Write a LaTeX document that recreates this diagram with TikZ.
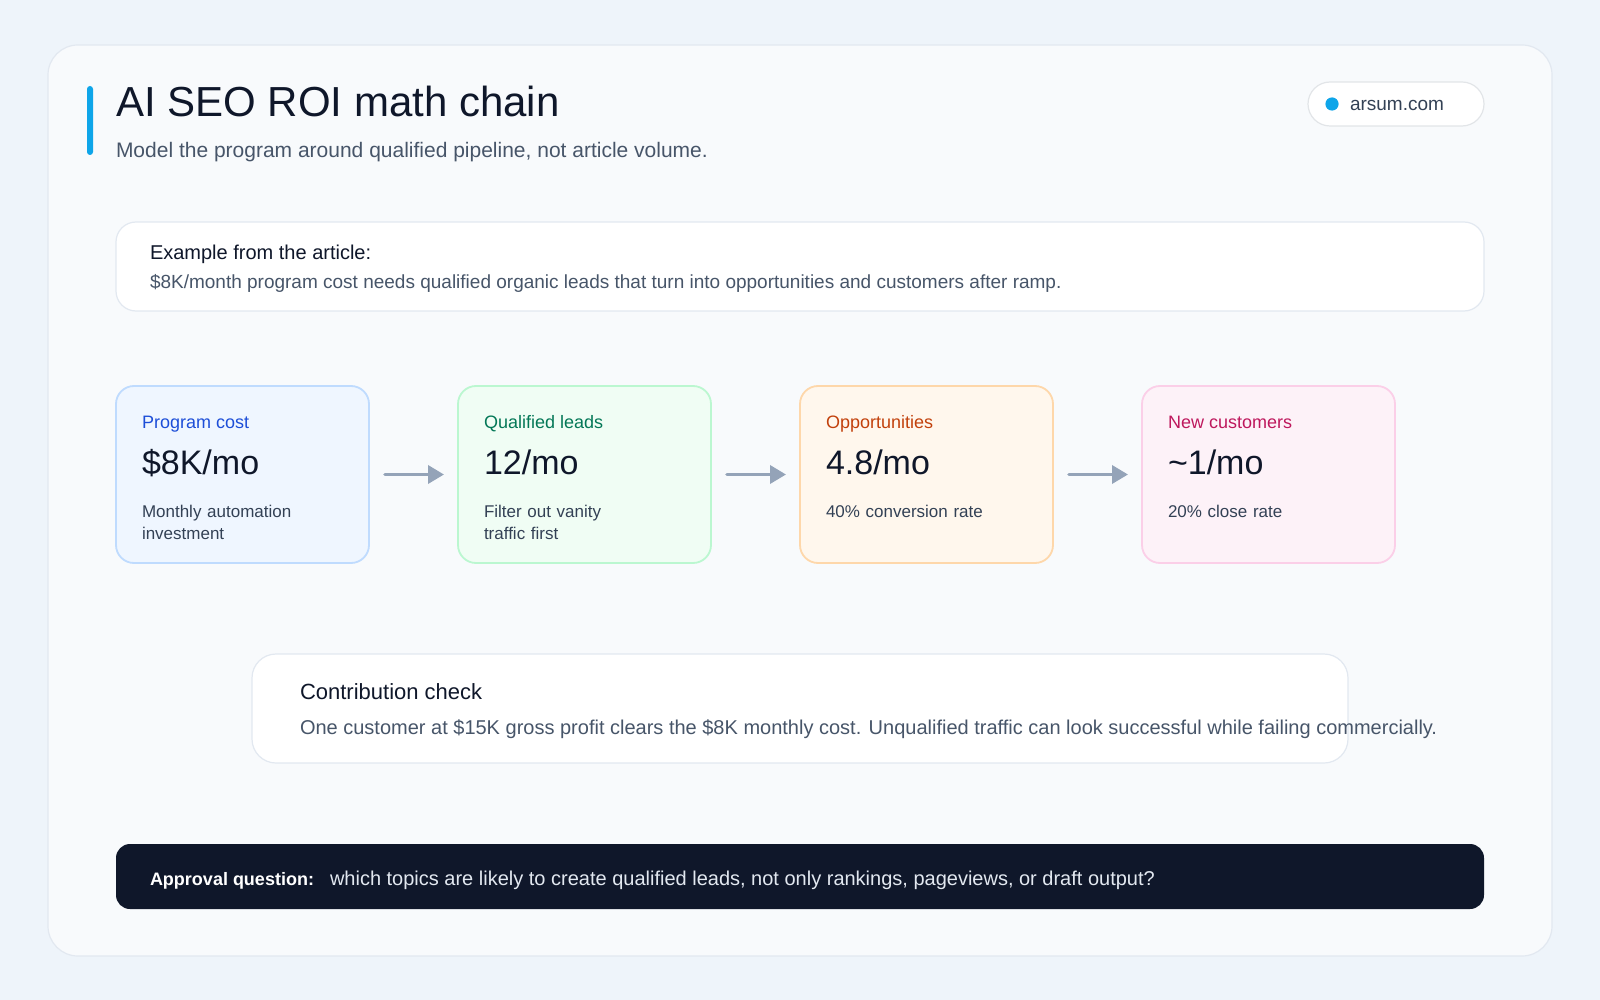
\documentclass[tikz,border=0pt]{standalone}
\usepackage{fontspec}
\setmainfont{Liberation Sans}
\usetikzlibrary{positioning,arrows.meta}
\definecolor{fond}{HTML}{EEF4FA}
\definecolor{carte}{HTML}{F8FAFC}
\definecolor{trait}{HTML}{E2E8F0}
\definecolor{encre}{HTML}{0F172A}
\definecolor{gris}{HTML}{475569}
\definecolor{ardoise}{HTML}{334155}
\definecolor{accent}{HTML}{0EA5E9}
\definecolor{fleche}{HTML}{94A3B8}
\definecolor{clair}{HTML}{E2E8F0}
\definecolor{bleuF}{HTML}{EFF6FF}
\definecolor{bleuB}{HTML}{BFDBFE}
\definecolor{bleuT}{HTML}{1D4ED8}
\definecolor{vertF}{HTML}{F0FDF4}
\definecolor{vertB}{HTML}{BBF7D0}
\definecolor{vertT}{HTML}{047857}
\definecolor{orangeF}{HTML}{FFF7ED}
\definecolor{orangeB}{HTML}{FED7AA}
\definecolor{orangeT}{HTML}{C2410C}
\definecolor{roseF}{HTML}{FDF2F8}
\definecolor{roseB}{HTML}{FBCFE8}
\definecolor{roseT}{HTML}{BE185D}
\begin{document}
\begin{tikzpicture}[
    x=0.5pt, y=-0.5pt, % une unité = un pixel, y vers le bas
    every node/.style={inner sep=0pt, outer sep=0pt},
    panel/.style={draw=trait, fill=white, line width=0.6pt, rounded corners=10pt, anchor=north west},
    stagebox/.style={line width=0.9pt, rounded corners=9pt, minimum width=126.5pt, minimum height=88.5pt, anchor=north west},
    txt/.style={anchor=base west},
    lab/.style={txt, font=\fontsize{9}{11}\selectfont},
    val/.style={txt, text=encre, font=\fontsize{17}{20}\selectfont},
    sub/.style={txt, text=ardoise, text width=115pt, align=left, font=\fontsize{8.5}{11}\selectfont},
    flow/.style={draw=fleche, line width=1.8pt, line cap=round, -{Triangle[length=8pt,width=9pt]}, shorten <=8pt, shorten >=7pt}
]
% Fond et carte
\fill[fond] (0,0) rectangle (1600,1000);
\useasboundingbox (0,0) rectangle (1600,1000);
\node[draw=trait, fill=carte, line width=0.6pt, rounded corners=15pt, minimum width=752pt, minimum height=455.5pt, anchor=north west] (card) at (48,45) {};
% En-tête
\fill[accent, rounded corners=1.5pt] (87,86) rectangle (93,155);
\node[txt, text=encre, font=\fontsize{21}{25}\selectfont] (title) at (116,117) {AI SEO ROI math chain};
\node[txt, text=gris, font=\fontsize{10.5}{12}\selectfont] (subtitle) at (116,158) {Model the program around qualified pipeline, not article volume.};
% Pastille
\node[panel, draw=clair!80!gray!60, rounded corners=11pt, minimum width=88pt, minimum height=22pt] (pill) at (1308,82) {};
\fill[accent] (1332,104) circle (3.3pt);
\node[txt, text=ardoise, font=\fontsize{9.5}{11}\selectfont] (site) at (1350,111) {arsum.com};
% Exemple
\node[panel, minimum width=684pt, minimum height=44.5pt] (example) at (116,222) {};
\node[txt, text=encre, font=\fontsize{10}{12}\selectfont] (exhead) at (150,260) {Example from the article:};
\node[txt, text=gris, font=\fontsize{9.5}{11}\selectfont] (exbody) at (150,288) {\$8K/month program cost needs qualified organic leads that turn into opportunities and customers after ramp.};
% Chaîne des étapes
\node[stagebox, draw=bleuB, fill=bleuF] (b1) at (116,386) {};
\node[stagebox, draw=vertB, fill=vertF, right=44.5pt of b1] (b2) {};
\node[stagebox, draw=orangeB, fill=orangeF, right=44.5pt of b2] (b3) {};
\node[stagebox, draw=roseB, fill=roseF, right=44.5pt of b3] (b4) {};
\node[lab, text=bleuT] (b1l) at ([shift={(26,42)}]b1.north west) {Program cost};
\node[val] (b1v) at ([shift={(26,88)}]b1.north west) {\$8K/mo};
\node[sub] (b1s) at ([shift={(26,131)}]b1.north west) {Monthly automation\\investment};
\node[lab, text=vertT] (b2l) at ([shift={(26,42)}]b2.north west) {Qualified leads};
\node[val] (b2v) at ([shift={(26,88)}]b2.north west) {12/mo};
\node[sub] (b2s) at ([shift={(26,131)}]b2.north west) {Filter out vanity\\traffic first};
\node[lab, text=orangeT] (b3l) at ([shift={(26,42)}]b3.north west) {Opportunities};
\node[val] (b3v) at ([shift={(26,88)}]b3.north west) {4.8/mo};
\node[sub] (b3s) at ([shift={(26,131)}]b3.north west) {40\% conversion rate};
\node[lab, text=roseT] (b4l) at ([shift={(26,42)}]b4.north west) {New customers};
\node[val] (b4v) at ([shift={(26,88)}]b4.north west) {\textasciitilde1/mo};
\node[sub] (b4s) at ([shift={(26,131)}]b4.north west) {20\% close rate};
\draw[flow] (b1) -- (b2);
\draw[flow] (b2) -- (b3);
\draw[flow] (b3) -- (b4);
% Vérification
\node[panel, rounded corners=12pt, minimum width=548pt, minimum height=54.5pt] (check) at (252,654) {};
\node[txt, text=encre, font=\fontsize{11}{13}\selectfont] (chead) at (300,699) {Contribution check};
\node[txt, text=gris, font=\fontsize{10}{12}\selectfont] (cbody) at (300,734) {One customer at \$15K gross profit clears the \$8K monthly cost. Unqualified traffic can look successful while failing commercially.};
% Question d'approbation
\node[fill=encre, rounded corners=7pt, minimum width=684pt, minimum height=32.5pt, anchor=north west] (approval) at (116,844) {};
\node[txt, text=white, font=\bfseries\fontsize{9}{11}\selectfont] (aq) at (150,885) {Approval question:};
\node[txt, text=clair, font=\fontsize{10}{12}\selectfont] (atext) at (330,885) {which topics are likely to create qualified leads, not only rankings, pageviews, or draft output?};
\end{tikzpicture}
\end{document}
